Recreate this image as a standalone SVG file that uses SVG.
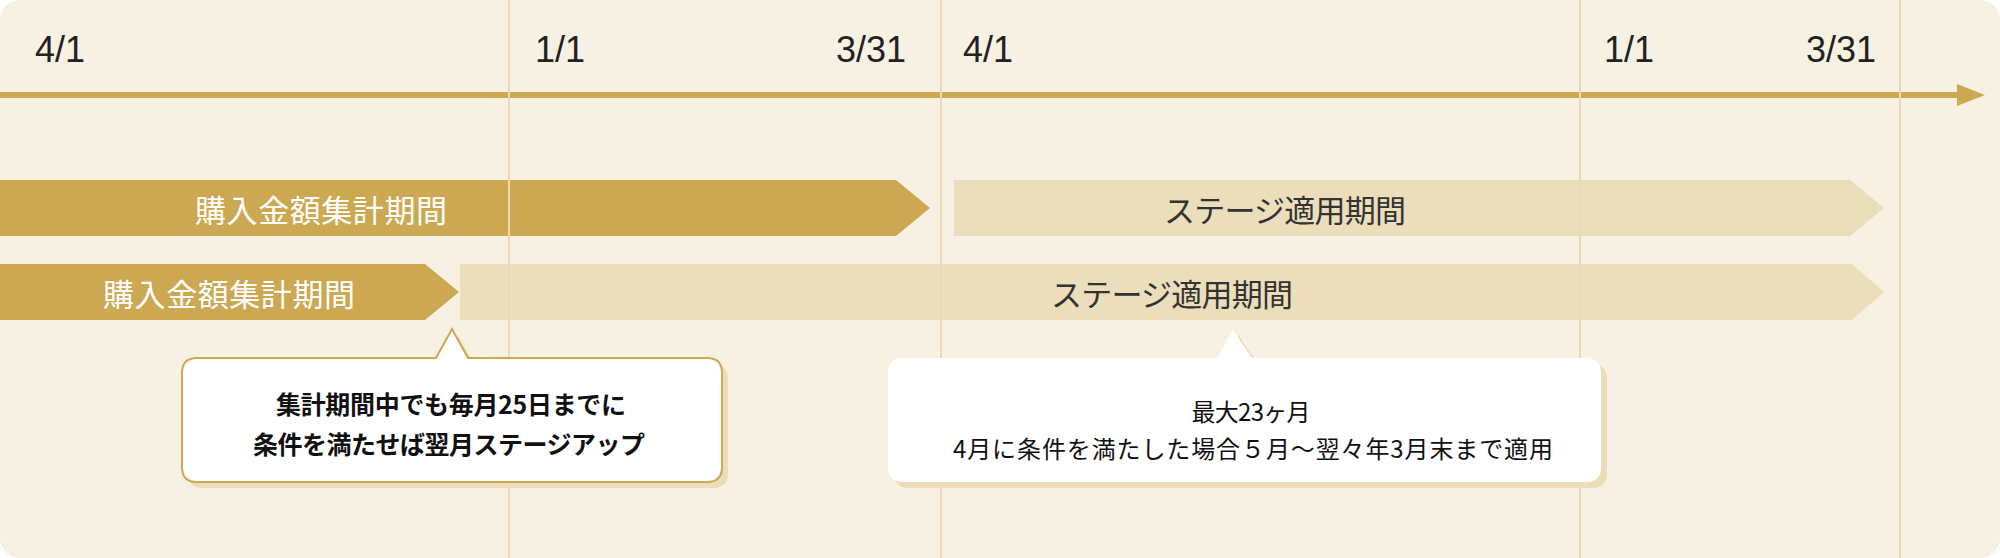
<svg xmlns="http://www.w3.org/2000/svg" width="2000" height="558" viewBox="0 0 2000 558">
  <defs>
    <style>
      .date { font-family: "Liberation Sans", Arial, sans-serif; font-size: 36px; fill: #222; }
      .jp { font-family: "Noto Sans CJK JP", "Noto Sans", sans-serif; }
      .bar-gold { fill: #cda852; }
      .bar-light { fill: #ecdebb; }
      .vline { stroke: #eadaae; stroke-width: 2; }
      .shadow { fill: #ecdcb8; }
      .wtext { fill: #ffffff; font-size: 31px; }
      .dtext { fill: #333333; font-size: 31px; }
    </style>
  </defs>
  <rect x="0" y="0" width="2000" height="558" fill="#ffffff"/>
  <rect id="background" x="0" y="0" width="2000" height="558" rx="20" ry="20" fill="#f7f1e3"/>

  <g id="bar-collect-1">
    <polygon class="bar-gold" points="0,180 896,180 930,208 896,236 0,236"/>
    <text class="jp wtext" x="321" y="208" text-anchor="middle" dominant-baseline="central" textLength="252">購入金額集計期間</text>
  </g>
  <g id="bar-stage-1">
    <polygon class="bar-light" points="954,180 1850,180 1884,208 1850,236 954,236"/>
    <text class="jp dtext" x="1285" y="208" text-anchor="middle" dominant-baseline="central" textLength="242">ステージ適用期間</text>
  </g>
  <g id="bar-collect-2">
    <polygon class="bar-gold" points="0,264 425,264 459,292 425,320 0,320"/>
    <text class="jp wtext" x="229" y="292" text-anchor="middle" dominant-baseline="central" textLength="252">購入金額集計期間</text>
  </g>
  <g id="bar-stage-2">
    <polygon class="bar-light" points="460,264 1852,264 1884,292 1852,320 460,320"/>
    <text class="jp dtext" x="1172" y="292" text-anchor="middle" dominant-baseline="central" textLength="242">ステージ適用期間</text>
  </g>

  <g id="connectors">
    <rect x="0" y="92" width="1958" height="6" fill="#cda852"/>
    <polygon points="1957,84 1985,95 1957,106" fill="#cda852"/>
  </g>

  <g id="gridlines">
    <line class="vline" x1="509" y1="0" x2="509" y2="558"/>
    <line class="vline" x1="941" y1="0" x2="941" y2="558"/>
    <line class="vline" x1="1580" y1="0" x2="1580" y2="558"/>
    <line class="vline" x1="1900" y1="0" x2="1900" y2="558"/>
  </g>

  <g id="dates">
    <text class="date" x="35" y="62">4/1</text>
    <text class="date" x="535" y="62">1/1</text>
    <text class="date" x="836" y="62">3/31</text>
    <text class="date" x="963" y="62">4/1</text>
    <text class="date" x="1604" y="62">1/1</text>
    <text class="date" x="1806" y="62">3/31</text>
  </g>

  <g id="callout-1">
    <path class="shadow" d="M203,364 H442 L458,336 L474,364 H713 Q728,364 728,379 V473 Q728,488 713,488 H203 Q188,488 188,473 V379 Q188,364 203,364 Z"/>
    <path d="M197,358 H436 L452,329 L468,358 H707 Q722,358 722,373 V467 Q722,482 707,482 H197 Q182,482 182,467 V373 Q182,358 197,358 Z" fill="#ffffff" stroke="#cda852" stroke-width="2"/>
    <text class="jp" x="451" y="403" text-anchor="middle" dominant-baseline="central" font-size="25" font-weight="700" fill="#111" textLength="350">集計期間中でも毎月25日までに</text>
    <text class="jp" x="449" y="443" text-anchor="middle" dominant-baseline="central" font-size="25" font-weight="700" fill="#111" textLength="392">条件を満たせば翌月ステージアップ</text>
  </g>

  <g id="callout-2">
    <path class="shadow" d="M909,364 H1223 L1239,336 L1258,364 H1592 Q1607,364 1607,379 V473 Q1607,488 1592,488 H909 Q894,488 894,473 V379 Q894,364 909,364 Z"/>
    <path d="M903,358 H1217 L1233,330 L1252,358 H1586 Q1601,358 1601,373 V467 Q1601,482 1586,482 H903 Q888,482 888,467 V373 Q888,358 903,358 Z" fill="#ffffff"/>
    <text class="jp" x="1251" y="410" text-anchor="middle" dominant-baseline="central" font-size="24" fill="#111" textLength="119">最大23ヶ月</text>
    <text class="jp" x="1253" y="447" text-anchor="middle" dominant-baseline="central" font-size="24" fill="#111" textLength="600">4月に条件を満たした場合５月〜翌々年3月末まで適用</text>
  </g>
</svg>
